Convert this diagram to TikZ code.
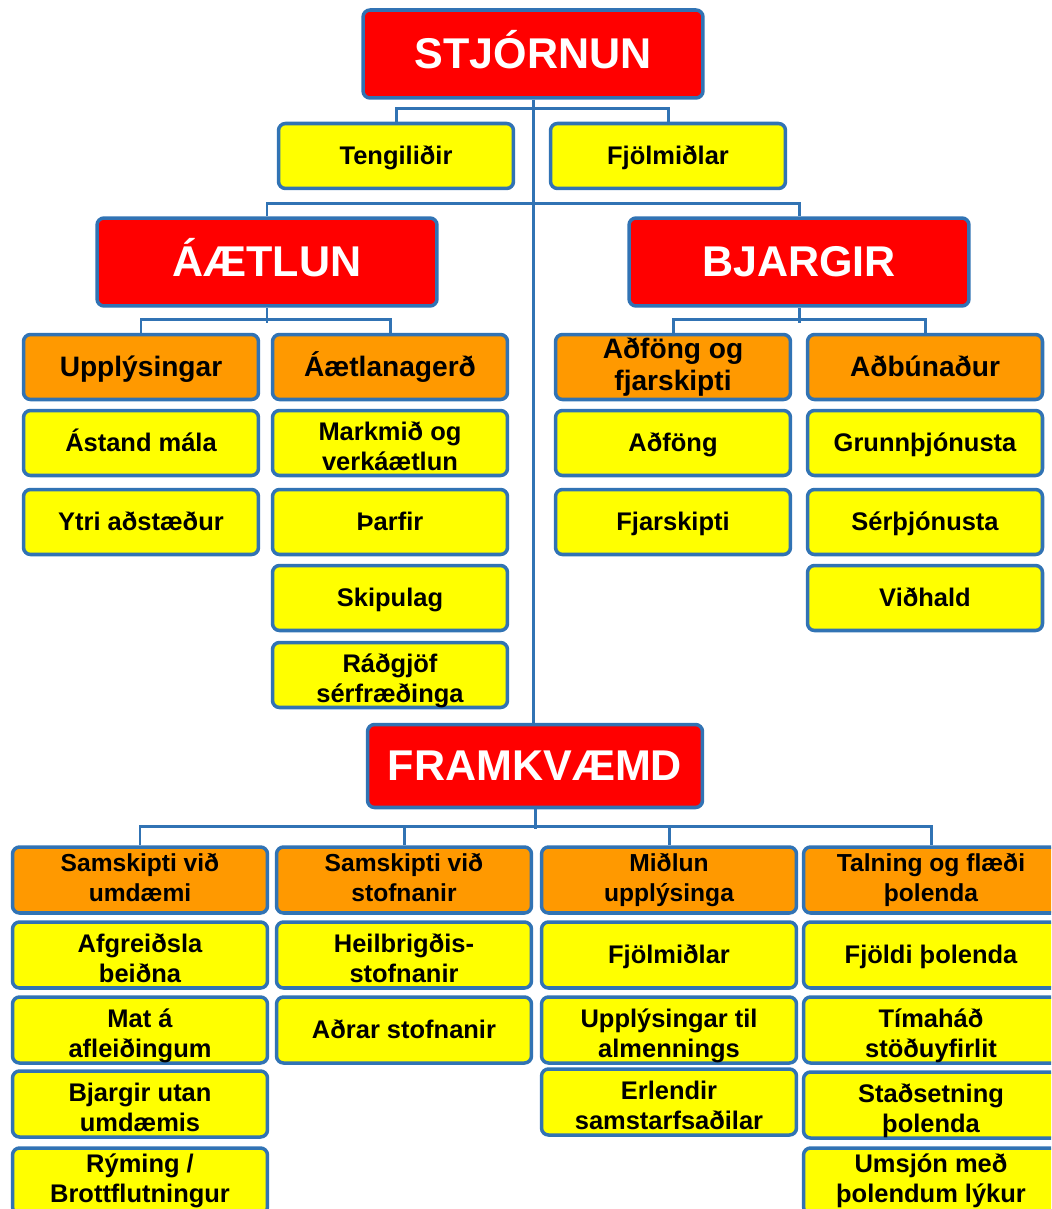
\documentclass[tikz,border=0pt]{standalone}
\usepackage{fontspec}
\setmainfont{Liberation Sans}
\definecolor{edgeblue}{RGB}{49,115,180}
\definecolor{headred}{RGB}{255,0,0}
\definecolor{suborange}{RGB}{255,153,0}
\definecolor{itemyellow}{RGB}{255,255,0}
\newcommand{\toprow}{\rule{0pt}{1.22em}}

\tikzset{
  box/.style={draw=edgeblue, line width=2pt, rounded corners=4pt, align=center,
    inner xsep=1pt, inner ysep=-6pt,
    execute at begin node={\vphantom{Á}}, execute at end node={\vphantom{g}}},
  headbox/.style={box, fill=headred, text=white, minimum width=6.8cm, minimum height=1.76cm,
    execute at end node={}, font=\fontsize{24.5}{28}\selectfont\bfseries},
  subbox/.style={box, fill=suborange, minimum width=4.7cm, minimum height=1.3cm,
    font=\fontsize{16}{18}\selectfont\bfseries},
  itembox/.style={box, fill=itemyellow, minimum width=4.7cm, minimum height=1.3cm,
    font=\fontsize{14.5}{17}\selectfont\bfseries},
  lowsub/.style={subbox, minimum width=5.1cm, minimum height=1.32cm,
    font=\fontsize{14}{17}\selectfont\bfseries},
  lowitem/.style={itembox, minimum width=5.1cm, minimum height=1.32cm},
  link/.style={draw=edgeblue, line width=1.7pt}
}

\begin{document}
\begin{tikzpicture}[x=0.02cm, y=-0.02cm]
    \useasboundingbox (0,0) rectangle (1051,1209);
    \clip (0,0) rectangle (1051,1209);

    % stjornun
    \node[headbox] (stjorn) at (533,54) {STJÓRNUN};
    \node[itembox] (teng) at (396,156) {Tengiliðir};
    \node[itembox] (fjolm) at (668,156) {Fjölmiðlar};

    % aaetlun og bjargir
    \node[headbox] (aaetl) at (267,262) {ÁÆTLUN};
    \node[headbox] (bjarg) at (799,262) {BJARGIR};

    \node[subbox] (uppl) at (141,367) {Upplýsingar};
    \node[subbox] (gerd) at (390,367) {Áætlanagerð};
    \node[subbox] (adfong) at (673,367) {Aðföng og\\fjarskipti};
    \node[subbox] (adbun) at (925,367) {Aðbúnaður};

    \node[itembox] (astand) at (141,443) {Ástand mála};
    \node[itembox] (ytri) at (141,522) {Ytri aðstæður};
    \node[itembox] (markm) at (390,443) {\toprow Markmið og\\verkáætlun};
    \node[itembox] (thorf) at (390,522) {Þarfir};
    \node[itembox] (skipul) at (390,598) {Skipulag};
    \node[itembox] (radgj) at (390,675) {\toprow Ráðgjöf\\sérfræðinga};
    \node[itembox] (adf) at (673,443) {Aðföng};
    \node[itembox] (fjarsk) at (673,522) {Fjarskipti};
    \node[itembox] (grunn) at (925,443) {Grunnþjónusta};
    \node[itembox] (serth) at (925,522) {Sérþjónusta};
    \node[itembox] (vidh) at (925,598) {Viðhald};

    % framkvaemd
    \node[headbox, minimum width=6.7cm, minimum height=1.66cm] (framk) at (535,766) {FRAMKVÆMD};

    \node[lowsub] (umd) at (140,880) {Samskipti við\\umdæmi};
    \node[lowsub] (stofn) at (404,880) {Samskipti við\\stofnanir};
    \node[lowsub] (midl) at (669,880) {Miðlun\\upplýsinga};
    \node[lowsub] (taln) at (931,880) {Talning og flæði\\þolenda};

    \node[lowitem] (afgr) at (140,955) {\toprow Afgreiðsla\\beiðna};
    \node[lowitem] (mat) at (140,1030) {\toprow Mat á\\afleiðingum};
    \node[lowitem] (utan) at (140,1104) {\toprow Bjargir utan\\umdæmis};
    \node[lowitem] (ryming) at (140,1181) {Rýming /\\Brottflutningur};

    \node[lowitem] (heilbr) at (404,955) {\toprow Heilbrigðis-\\stofnanir};
    \node[lowitem] (adrar) at (404,1030) {Aðrar stofnanir};

    \node[lowitem] (fjolm2) at (669,955) {Fjölmiðlar};
    \node[lowitem] (almenn) at (669,1030) {\toprow Upplýsingar til\\almennings};
    \node[lowitem] (erlend) at (669,1102) {\toprow Erlendir\\samstarfsaðilar};

    \node[lowitem] (fjoldi) at (931,955) {Fjöldi þolenda};
    \node[lowitem] (timah) at (931,1030) {\toprow Tímaháð\\stöðuyfirlit};
    \node[lowitem] (stads) at (931,1105) {\toprow Staðsetning\\þolenda};
    \node[lowitem] (umsjon) at (931,1181) {Umsjón með\\þolendum lýkur};

    % tengingar
    \draw[link] (stjorn.south) -- (stjorn.south |- framk.north);
    \draw[link] (teng.north) -- ++(0,-13) -| (fjolm.north);
    \draw[link] (aaetl.north) -- ++(0,-13) -| (bjarg.north);
    \draw[link] (aaetl.south) -- ++(0,15);
    \draw[link] (uppl.north) -- ++(0,-13) -| (gerd.north);
    \draw[link] (bjarg.south) -- ++(0,15);
    \draw[link] (adfong.north) -- ++(0,-13) -| (adbun.north);
    \draw[link] (framk.south) -- ++(0,20);
    \draw[link] (umd.north) -- ++(0,-19) -| (taln.north);
    \draw[link] (stofn.north) -- ++(0,-19);
    \draw[link] (midl.north) -- ++(0,-19);
\end{tikzpicture}
\end{document}
